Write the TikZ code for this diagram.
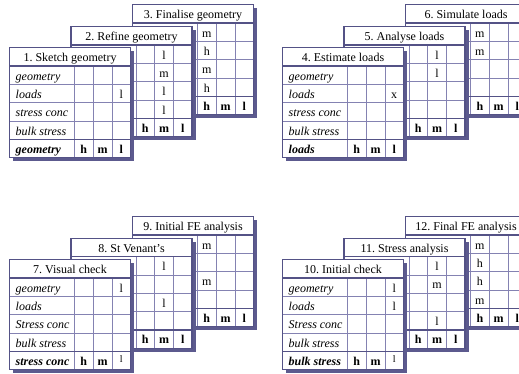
\documentclass[tikz,border=0pt]{standalone}
\usepackage{fontspec}
\setmainfont{Liberation Serif}
\definecolor{cardframe}{RGB}{84,82,134}
\definecolor{cardshadow}{RGB}{92,90,142}
\definecolor{cardgrid}{RGB}{132,130,178}
\begin{document}
\begin{tikzpicture}[x=1pt,y=-1pt,
    txt/.style={font=\fontsize{12}{14}\selectfont,inner sep=0pt},
    ttl/.style={txt,anchor=base},
    lab/.style={txt,anchor=base west,font=\fontsize{12}{14}\selectfont\itshape},
    blab/.style={lab,font=\fontsize{12}{14}\selectfont\bfseries\itshape},
    val/.style={txt,anchor=base},
    bval/.style={val,font=\fontsize{12}{14}\selectfont\bfseries},
    lval/.style={val,font=\fontsize{10}{12}\selectfont,yshift=3pt},
    shadow/.style={fill=cardshadow},
    card/.style={draw=cardframe,line width=1.3pt},
    rule/.style={cardframe,line width=1.2pt},
    grid/.style={cardgrid,line width=0.6pt}]
  \useasboundingbox (0,0) rectangle (519,374);
  \clip (0,0) rectangle (519,374);
  % the cards, back to front in each group
  \foreach \n/\x/\y/\title/\cells/\ls in {
      3/132.5/4.7/Finalise geometry/{1/1/m,2/1/h,3/1/m,4/1/h}/bval,
      2/71/26.7/Refine geometry/{1/2/l,2/2/m,3/2/l,4/2/l}/bval,
      1/9.5/47.7/Sketch geometry/{2/3/l}/bval,
      6/405.5/4.7/Simulate loads/{1/1/m,2/1/m}/bval,
      5/344/26.7/Analyse loads/{1/2/l,2/2/l}/bval,
      4/282.5/47.7/Estimate loads/{2/3/x}/bval,
      9/132.5/216.7/Initial FE analysis/{1/1/m,3/1/m}/bval,
      8/71/238.2/St Venant’s/{1/2/l,3/2/l}/bval,
      7/9.5/259.7/Visual check/{1/3/l}/lval,
      12/405.5/216.7/Final FE analysis/{1/1/m,2/1/h,3/1/h,4/1/m}/bval,
      11/344/238.2/Stress analysis/{1/2/l,2/2/m,4/2/l}/bval,
      10/282.5/259.7/Initial check/{1/3/l,2/3/l}/lval}{
    \begin{scope}[shift={(\x,\y)}]
      \fill[shadow] (3.5,3.5) rectangle (124.5,113.5);
      \fill[white] (0,0) rectangle (121,110);
      \foreach \r in {36.7,55.05,73.4}
        \draw[grid] (0,\r) -- (121,\r);
      \foreach \c in {65,83.67,102.33}
        \draw[grid] (\c,18.35) -- (\c,110);
      \draw[rule] (0,18.35) -- (121,18.35) (0,91.75) -- (121,91.75);
      \draw[card] (0,0) rectangle (121,110);
      \node[ttl] (t\n) at (60.5,14) {\n.~\title};
      \foreach \r/\c/\v in \cells
        \node[val] (v\n\r\c) at (55.67+18.67*\c,18.35*\r+14) {\v};
      \node[bval] (h\n) at (74.33,105.75) {h};
      \node[bval] (m\n) at (93,105.75) {m};
      \node[\ls] (l\n) at (111.67,105.75) {l};
    \end{scope}
  }
  % row labels on the front cards
  \foreach \k/\x/\y/\key/\sc in {a/9.5/47.7/geometry/stress,
      b/282.5/47.7/loads/stress, c/9.5/259.7/stress conc/Stress,
      d/282.5/259.7/bulk stress/Stress}{
    \begin{scope}[shift={(\x,\y)}]
      \node[lab] (geo\k) at (6,32.35) {geometry};
      \node[lab] (lds\k) at (6,50.7) {loads};
      \node[lab] (sc\k) at (6,69.05) {\sc~conc};
      \node[lab] (bs\k) at (6,87.4) {bulk stress};
      \node[blab] (key\k) at (6,105.75) {\key};
    \end{scope}
  }
\end{tikzpicture}
\end{document}
